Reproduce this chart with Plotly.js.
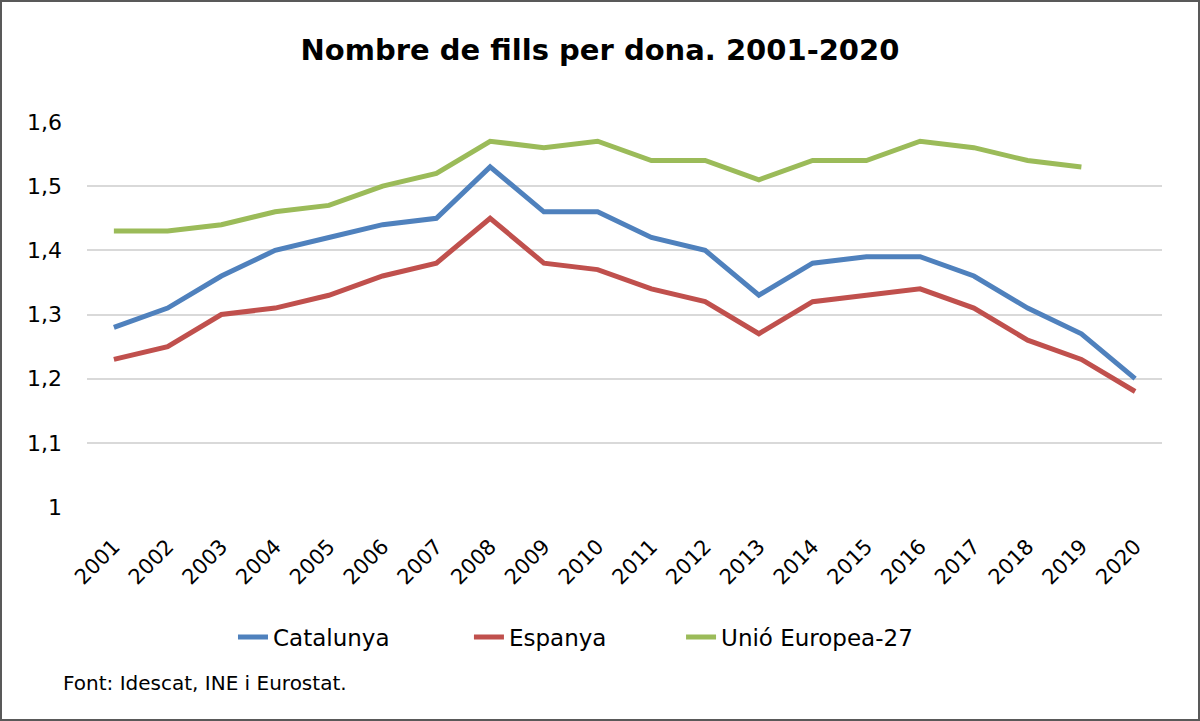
<!DOCTYPE html>
<html>
<head>
<meta charset="utf-8">
<script src="https://cdn.plot.ly/plotly-3.0.1.min.js"></script>
<style>
html,body{margin:0;padding:0;background:#fff;}
#wrap{position:relative;width:1200px;height:721px;}
#chart{width:1200px;height:721px;}
#frame{position:absolute;left:0;top:0;width:1200px;height:721px;box-sizing:border-box;border:2px solid #595959;pointer-events:none;}
</style>
</head>
<body>
<div id="wrap"><div id="chart"></div><div id="frame"></div></div>
<script>
const years = ["2001","2002","2003","2004","2005","2006","2007","2008","2009","2010","2011","2012","2013","2014","2015","2016","2017","2018","2019","2020"];
const catalunya = [1.28,1.31,1.36,1.40,1.42,1.44,1.45,1.53,1.46,1.46,1.42,1.40,1.33,1.38,1.39,1.39,1.36,1.31,1.27,1.20];
const espanya = [1.23,1.25,1.30,1.31,1.33,1.36,1.38,1.45,1.38,1.37,1.34,1.32,1.27,1.32,1.33,1.34,1.31,1.26,1.23,1.18];
const ue27 = [1.43,1.43,1.44,1.46,1.47,1.50,1.52,1.57,1.56,1.57,1.54,1.54,1.51,1.54,1.54,1.57,1.56,1.54,1.53,null];
const seriesNames = ["Catalunya","Espanya","Unió Europea-27"];

const font = "DejaVu Sans, Verdana, sans-serif";
const traces = [
  {x: years, y: catalunya, name: seriesNames[0], legend: "legend", type: "scatter", mode: "lines", line: {color: "#4F81BD", width: 5}},
  {x: years, y: espanya, name: seriesNames[1], legend: "legend2", type: "scatter", mode: "lines", line: {color: "#C0504D", width: 5}},
  {x: years, y: ue27, name: seriesNames[2], legend: "legend3", type: "scatter", mode: "lines", line: {color: "#9BBB59", width: 5}}
];
function leg(x) {
  return {orientation: "h", x: x, xanchor: "left", y: -0.338, yanchor: "middle", font: {size: 23, family: font}, bgcolor: "rgba(0,0,0,0)"};
}
const layout = {
  width: 1200, height: 721,
  margin: {l: 87, r: 38, t: 122, b: 214},
  paper_bgcolor: "#fff", plot_bgcolor: "#fff",
  separators: ",.",
  font: {family: font, color: "#000"},
  title: {text: "<b>Nombre de fills per dona. 2001-2020</b>", x: 0.5, xref: "container", y: 1 - 50/721, yref: "container", yanchor: "middle", font: {size: 29, family: font, color: "#000"}},
  xaxis: {type: "category", range: [-0.5, years.length - 0.5], showgrid: false, zeroline: false, showline: false, ticks: "", tickangle: -45, tickfont: {size: 21, family: font}, ticklabelstandoff: 22, fixedrange: true},
  yaxis: {range: [1, 1.6], dtick: 0.1, tick0: 1, showgrid: true, gridcolor: "#D9D9D9", gridwidth: 2, zeroline: false, showline: false, ticks: "", tickfont: {size: 22, family: font}, ticklabelstandoff: 24, fixedrange: true},
  showlegend: true,
  legend: leg(0.1358),
  legend2: leg(0.3553),
  legend3: leg(0.5526),
  annotations: [{text: "Font: Idescat, INE i Eurostat.", xref: "paper", yref: "paper", x: -0.024, y: -0.457, xanchor: "left", yanchor: "middle", showarrow: false, font: {size: 20, family: font, color: "#000"}}]
};
Plotly.newPlot("chart", traces, layout, {displayModeBar: false, staticPlot: true});
</script>
</body>
</html>
